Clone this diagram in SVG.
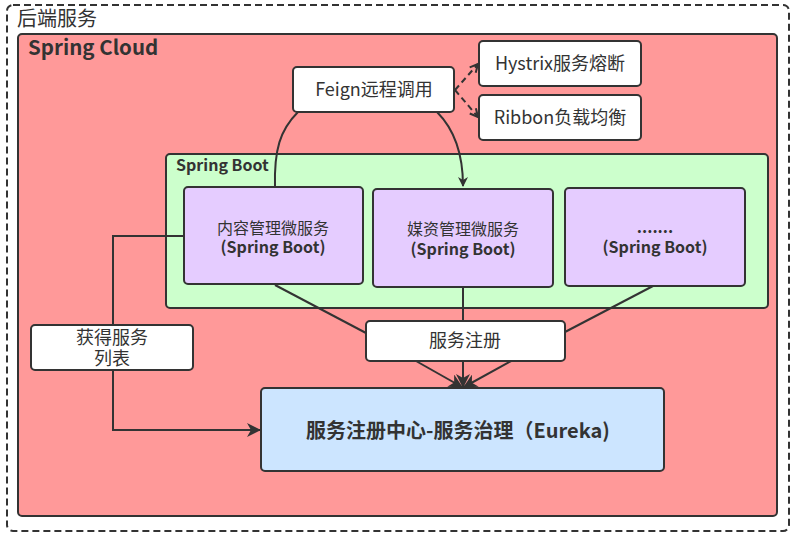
<svg xmlns="http://www.w3.org/2000/svg" width="795" height="537" viewBox="0 0 795 537">
<defs>
<style>
text{font-family:"Noto Sans CJK SC","Noto Sans",sans-serif;fill:#333333;}
.box{stroke:#333333;stroke-width:2;}
.ln{fill:none;stroke:#333333;stroke-width:2;}
.t18{font-size:18px;}
.t16{font-size:16px;}
.c{text-anchor:middle;}
.b{font-weight:bold;}
</style>
<marker id="tri" viewBox="0 0 10 10" refX="9" refY="5" markerWidth="10" markerHeight="10" markerUnits="userSpaceOnUse" orient="auto">
<path d="M0,0 L10,5 L0,10 L3,5 Z" fill="#333333"/>
</marker>
<marker id="tri2" viewBox="0 0 14 14" refX="13" refY="7" markerWidth="14" markerHeight="14" markerUnits="userSpaceOnUse" orient="auto">
<path d="M0,0 L14,7 L0,14 L4,7 Z" fill="#333333"/>
</marker>
<marker id="open" viewBox="0 0 10 10" refX="9" refY="5" markerWidth="10" markerHeight="10" markerUnits="userSpaceOnUse" orient="auto">
<path d="M1,1 L9,5 L1,9" fill="none" stroke="#333333" stroke-width="2"/>
</marker>
</defs>
<rect width="795" height="537" fill="#ffffff"/>
<g id="backend">
<rect x="7" y="5" width="782" height="526" rx="6" fill="#ffffff" stroke="#333333" stroke-width="2" stroke-dasharray="7 4"/>
<text x="17" y="26" font-size="20">后端服务</text>
</g>
<g id="spring-cloud">
<rect class="box" x="18" y="34" width="759" height="482" rx="4" fill="#ff9999"/>
<text x="28" y="55" class="b" font-size="20.5">Spring Cloud</text>
</g>
<g id="spring-boot">
<rect class="box" x="166" y="154" width="602" height="154" rx="4" fill="#ccffcc"/>
<text x="176" y="171" class="b" font-size="16">Spring Boot</text>
</g>
<g id="connectors">
<path class="ln" d="M298,112 C280,130 274,150 275,187"/>
<path class="ln" d="M437,112 C455,130 463,155 463,186" marker-end="url(#tri)"/>
<path class="ln" d="M455,90 L478,64" stroke-dasharray="6 4" marker-end="url(#open)"/>
<path class="ln" d="M455,90 L478,117" stroke-dasharray="6 4" marker-end="url(#open)"/>
<path class="ln" d="M275,285 L366,333"/>
<path class="ln" d="M463,287 L463,321"/>
<path class="ln" d="M653,286 L565,332"/>
<path class="ln" d="M416,361 L462,387" marker-end="url(#tri2)"/>
<path class="ln" d="M463,361 L463,387" marker-end="url(#tri2)"/>
<path class="ln" d="M511,361 L464,387" marker-end="url(#tri2)"/>
<path class="ln" d="M184,236 L113,236 L113,430 L260,430" marker-end="url(#tri2)"/>
</g>
<g id="feign">
<rect class="box" x="293" y="67" width="161" height="45" rx="4" fill="#ffffff"/>
<text x="374" y="96" class="t18 c">Feign远程调用</text>
</g>
<g id="hystrix">
<rect class="box" x="479" y="41" width="162" height="45" rx="4" fill="#ffffff"/>
<text x="560" y="70" class="t18 c">Hystrix服务熔断</text>
</g>
<g id="ribbon">
<rect class="box" x="479" y="95" width="162" height="45" rx="4" fill="#ffffff"/>
<text x="560" y="124" class="t18 c">Ribbon负载均衡</text>
</g>
<g id="content-svc">
<rect class="box" x="184" y="187" width="179" height="97" rx="4" fill="#e5ccff"/>
<text x="273" y="234" class="c t16">内容管理微服务</text>
<text x="273" y="253" class="c b t16">(Spring Boot)</text>
</g>
<g id="media-svc">
<rect class="box" x="373" y="189" width="180" height="98" rx="4" fill="#e5ccff"/>
<text x="463" y="235" class="c t16">媒资管理微服务</text>
<text x="463" y="255" class="c b t16">(Spring Boot)</text>
</g>
<g id="other-svc">
<rect class="box" x="565" y="188" width="180" height="98" rx="4" fill="#e5ccff"/>
<text x="655" y="233" class="c b t16">.......</text>
<text x="655" y="253" class="c b t16">(Spring Boot)</text>
</g>
<g id="register">
<rect class="box" x="366" y="321" width="199" height="40" rx="4" fill="#ffffff"/>
<text x="465" y="347" class="t18 c">服务注册</text>
</g>
<g id="get-list">
<rect class="box" x="31" y="325" width="162" height="45" rx="4" fill="#ffffff"/>
<text x="112" y="344" class="t18 c">获得服务</text>
<text x="112" y="365" class="t18 c">列表</text>
</g>
<g id="eureka">
<rect class="box" x="261" y="388" width="403" height="83" rx="4" fill="#cce5ff"/>
<text x="458" y="438" class="c b" font-size="20">服务注册中心-服务治理（Eureka)</text>
</g>
</svg>
